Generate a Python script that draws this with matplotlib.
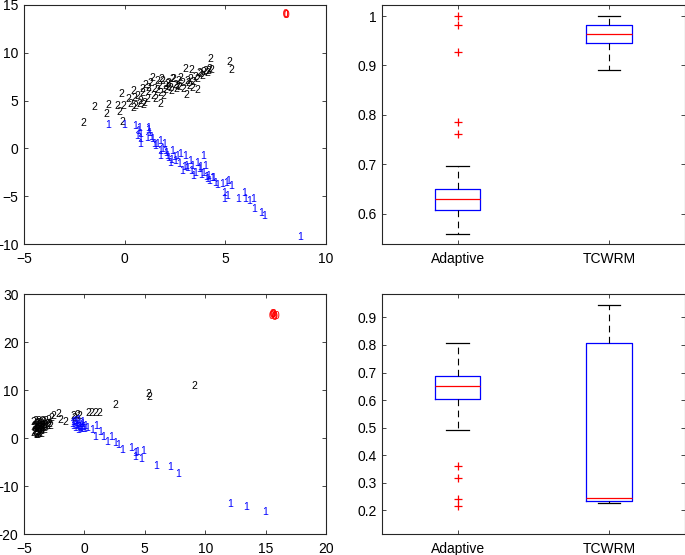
import matplotlib
matplotlib.use("Agg")
import matplotlib.pyplot as plt

plt.rcParams['font.family'] = ['Liberation Sans', 'DejaVu Sans']

# ---------------- data: top-left scatter ----------------
tl_c2_x = [-2.07, -1.51, -0.93, -0.83, -0.35, -0.25, -0.18, -0.10, -0.05, 0.20, 0.41, 0.41, 0.61, 0.71,
           0.86, 0.94, 1.11, 1.19, 1.36, 1.44, 1.64, 1.77, 1.82, 1.90, 2.02, 2.19, 2.27, 2.43, 2.60,
           2.77, 2.90, 3.01, 3.06, 3.18, 3.29, 3.34, 3.59, 3.63, 3.76, 3.92, 4.17, 4.26, 4.30, 5.18,
           5.28, 0.30, 0.50, 0.55, 0.80, 0.90, 1.00, 1.05, 1.20, 1.30, 1.50, 1.55, 1.60, 1.70, 1.75,
           1.85, 2.00, 2.10, 2.15, 2.30, 2.35, 2.50, 2.55, 2.65, 2.70, 2.85, 3.10, 3.20, 3.25, 3.40,
           3.50, 3.70, 3.85, 4.00, 4.10, 4.20]
tl_c2_y = [2.69, 4.33, 3.56, 4.54, 4.43, 3.84, 5.72, 2.79, 4.43, 5.20, 5.97, 4.26, 5.48, 4.68,
           6.18, 4.50, 5.13, 6.35, 7.40, 5.48, 6.07, 4.68, 7.23, 5.48, 6.53, 6.88, 6.35, 7.23, 6.53,
           7.40, 6.25, 8.27, 5.58, 6.88, 8.20, 6.35, 7.23, 6.11, 7.75, 8.00, 8.10, 9.32, 8.20, 9.04,
           8.20, 4.60, 5.30, 4.40, 5.00, 5.80, 4.80, 6.60, 5.90, 6.80, 6.20, 5.20, 7.00, 6.50, 5.80,
           7.10, 6.10, 6.70, 6.40, 6.00, 7.30, 6.60, 6.20, 7.00, 6.40, 6.80, 7.00, 6.50, 7.30, 6.90,
           7.50, 7.90, 7.60, 8.10, 7.90, 8.30]

tl_c1_x = [-0.84, -0.03, 0.53, 0.70, 0.61, 0.78, 0.78, 1.19, 1.11, 1.24, 1.36, 1.44, 1.74, 1.74,
           1.77, 1.94, 2.02, 2.10, 2.24, 2.35, 2.52, 2.60, 2.77, 2.85, 3.01, 3.06, 3.23, 3.34, 3.39,
           3.59, 3.68, 3.89, 3.92, 4.00, 4.09, 4.17, 4.34, 4.50, 4.84, 5.05, 5.13, 5.28, 4.92, 5.08,
           4.95, 5.65, 5.91, 5.98, 6.16, 6.36, 6.41, 6.77, 6.95, 8.72, 0.65, 0.75, 1.15, 1.30, 1.50,
           1.60, 1.85, 2.05, 2.15, 2.30, 2.45, 2.70, 2.95, 3.10, 3.30, 3.50, 3.75, 3.80, 4.05, 4.20,
           4.40, 4.60]
tl_c1_y = [2.41, 2.41, 2.34, 2.16, 1.29, 0.94, 0.42, 2.16, 1.12, 1.64, 0.94, 0.42, 0.77, -0.28,
           -0.80, 0.42, -0.28, -0.80, -1.50, -0.28, -1.33, -0.80, -0.63, -2.37, -0.80, -1.85, -1.33,
           -1.85, -2.90, -1.50, -2.20, -0.80, -2.55, -1.85, -3.25, -2.90, -3.07, -3.60, -3.77, -3.60,
           -3.42, -3.94, -4.64, -4.99, -5.34, -5.34, -4.64, -5.34, -5.51, -5.34, -6.39, -6.74, -7.02,
           -9.28, 1.80, 1.50, 1.90, 1.20, 0.20, 0.50, -0.10, -0.50, -1.00, -1.20, -0.90, -1.60, -1.90,
           -2.10, -2.40, -2.60, -1.90, -2.80, -3.00, -3.40, -3.10, -3.80]

tl_c0_x = [7.99, 8.01, 8.03]
tl_c0_y = [14.02, 13.96, 13.98]

# ---------------- data: bottom-left scatter ----------------
bl_c2_x = [9.10, 5.30, 5.35, 2.54, 0.33, 0.60, 0.90, 1.20, -0.90, -0.60, -0.40, -0.80, -2.15, -2.57,
           -2.00, -1.60, -2.98, -2.70, -3.20, -4.20, -4.10, -4.00, -4.15, -3.90, -3.95, -3.80, -3.85,
           -3.70, -3.75, -3.60, -3.65, -3.50, -3.55, -3.40, -3.45, -3.30, -3.35, -3.20, -3.10, -3.00,
           -2.90, -2.80, -4.05, -3.90, -3.60, -3.80, -3.50, -4.10, -3.70, -4.00, -3.90, -3.30,
           -4.15, -4.05, -3.95, -3.85, -3.75, -3.65, -3.55, -3.45, -4.20, -4.00]
bl_c2_y = [10.85, 9.20, 8.60, 6.80, 5.30, 5.30, 5.30, 5.30, 4.60, 4.80, 4.50, 4.10, 5.10, 4.60,
           3.75, 3.40, 3.75, 4.20, 3.50, 1.00, 2.00, 3.00, 1.50, 0.60, 2.50, 3.50, 1.20, 2.20, 0.90,
           3.00, 1.70, 2.60, 1.40, 3.30, 2.00, 2.80, 1.60, 2.30, 3.00, 2.50, 2.90, 2.60, 3.60, 1.80,
           0.80, 2.80, 3.60, 2.60, 1.10, 1.90, 3.20, 2.10,
           2.30, 1.30, 0.90, 2.00, 3.10, 2.40, 1.90, 2.70, 3.40, 0.70]

bl_c1_x = [-1.00, -0.90, -0.80, -0.75, -0.65, -0.60, -0.50, -0.45, -0.40, -0.30, -0.25, -0.20,
           -0.10, -0.95, -0.70, -0.55, -0.35, -0.15, 0.00, 0.10, 0.25, 0.60, 1.00, 0.90, 1.30, 1.57,
           1.85, 2.20, 2.54, 2.80, 3.15, 3.90, 4.20, 4.40, 4.70, 4.90, 4.20, 5.90, 7.10, 7.80, 12.06,
           13.35, 14.95]
bl_c1_y = [3.00, 2.40, 3.60, 2.00, 3.20, 2.60, 3.75, 2.20, 3.00, 2.50, 1.90, 3.30, 2.30, 3.40,
           2.80, 1.70, 2.10, 2.90, 1.80, 2.40, 2.00, 1.70, 2.40, 0.30, 1.30, 0.30, -0.80, 0.30, -1.10,
           -1.50, -2.40, -2.15, -3.20, -2.85, -4.45, -2.65, -4.00, -5.85, -6.00, -7.40, -13.80,
           -14.30, -15.50]

bl_c0_x = [15.50, 15.60, 15.70, 15.55, 15.90, 15.65, 15.75]
bl_c0_y = [25.50, 25.80, 25.30, 25.60, 25.50, 25.90, 25.40]

# ---------------- data: boxplots ----------------
box_labels = ['Adaptive', 'TCWRM']

tr_whislo = [0.559, 0.891]
tr_q1 = [0.607, 0.945]
tr_med = [0.630, 0.963]
tr_q3 = [0.649, 0.981]
tr_whishi = [0.697, 1.000]
tr_fliers = [[1.000, 0.981, 0.927, 0.786, 0.762], []]

br_whislo = [0.491, 0.228]
br_q1 = [0.603, 0.234]
br_med = [0.652, 0.244]
br_q3 = [0.689, 0.807]
br_whishi = [0.807, 0.945]
br_fliers = [[0.362, 0.318, 0.241, 0.217], []]

# ---------------- drawing ----------------
W, H = 685, 555
fig = plt.figure(figsize=(W / 100, H / 100), dpi=100)

AX_COL = '#262626'
TICK_FS = 10
MARK_FS = 7.5


def style(ax):
    for s in ax.spines.values():
        s.set_color(AX_COL)
        s.set_linewidth(0.8)
    ax.tick_params(direction='in', top=True, right=True, length=3, width=0.6,
                   color=AX_COL, labelsize=TICK_FS, labelcolor='black')
    ax.tick_params(axis='y', pad=4)
    ax.tick_params(axis='x', pad=6)


def rect(l, t, r, b):
    return [l / W, 1 - b / H, (r - l) / W, (b - t) / H]


def text_scatter(ax, xs, ys, label, color, bold=False):
    for x, y in zip(xs, ys):
        ax.text(x, y, label, color=color, fontsize=MARK_FS, ha='center', va='center',
                fontweight='bold' if bold else 'normal', clip_on=True)


# top-left
ax1 = fig.add_axes(rect(24, 5, 326, 244))
ax1.set_xlim(-5, 10)
ax1.set_ylim(-10, 15)
text_scatter(ax1, tl_c2_x, tl_c2_y, '2', 'black')
text_scatter(ax1, tl_c1_x, tl_c1_y, '1', 'blue')
text_scatter(ax1, tl_c0_x, tl_c0_y, '0', 'red')
ax1.set_xticks([-5, 0, 5, 10])
ax1.set_yticks([-10, -5, 0, 5, 10, 15])
style(ax1)

# bottom-left
ax3 = fig.add_axes(rect(24, 294, 326, 534))
ax3.set_xlim(-5, 20)
ax3.set_ylim(-20, 30)
text_scatter(ax3, bl_c2_x, bl_c2_y, '2', 'black')
text_scatter(ax3, bl_c1_x, bl_c1_y, '1', 'blue')
text_scatter(ax3, bl_c0_x, bl_c0_y, '0', 'red')
ax3.set_xticks([-5, 0, 5, 10, 15, 20])
ax3.set_yticks([-20, -10, 0, 10, 20, 30])
style(ax3)


def draw_box(ax, whislo, q1, med, q3, whishi, fliers):
    stats = []
    for i in range(len(box_labels)):
        stats.append(dict(whislo=whislo[i], q1=q1[i], med=med[i], q3=q3[i],
                          whishi=whishi[i], fliers=fliers[i], label=box_labels[i]))
    ax.bxp(stats, positions=[1, 2], widths=0.3, showfliers=True,
           boxprops=dict(color='blue', linewidth=0.9),
           medianprops=dict(color='red', linewidth=0.9),
           whiskerprops=dict(color='black', linestyle=(0, (6, 4)), linewidth=0.8),
           capprops=dict(color='black', linewidth=0.9),
           capwidths=0.15,
           flierprops=dict(marker='+', markeredgecolor='red', markersize=6,
                           markeredgewidth=0.9, linestyle='none'))
    ax.set_xlim(0.5, 2.5)
    ax.set_xticks([1, 2])
    ax.set_xticklabels(box_labels)


ax2 = fig.add_axes(rect(382, 5, 684.5, 244))
draw_box(ax2, tr_whislo, tr_q1, tr_med, tr_q3, tr_whishi, tr_fliers)
ax2.set_ylim(0.5387, 1.0223)
ax2.set_yticks([0.6, 0.7, 0.8, 0.9, 1.0])
ax2.set_yticklabels(['0.6', '0.7', '0.8', '0.9', '1'])
style(ax2)

ax4 = fig.add_axes(rect(382, 294, 684.5, 534))
draw_box(ax4, br_whislo, br_q1, br_med, br_q3, br_whishi, br_fliers)
ax4.set_ylim(0.114, 0.985)
ax4.set_yticks([0.2, 0.3, 0.4, 0.5, 0.6, 0.7, 0.8, 0.9])
ax4.set_yticklabels(['0.2', '0.3', '0.4', '0.5', '0.6', '0.7', '0.8', '0.9'])
style(ax4)

fig.savefig('out.png', dpi=100)
